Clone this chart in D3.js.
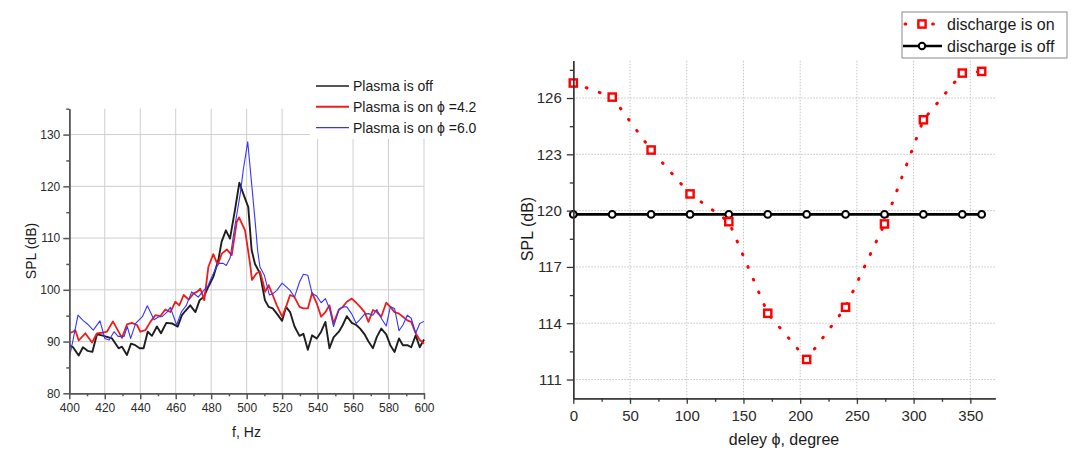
<!DOCTYPE html>
<html>
<head>
<meta charset="utf-8">
<script src="https://cdn.jsdelivr.net/npm/d3@7"></script>
<style>
  html, body { margin: 0; padding: 0; background: #fff; }
  svg { display: block; font-family: Arial, "Liberation Sans", sans-serif; }
</style>
</head>
<body>
<svg id="chart" width="1072" height="455"></svg>
<script>
// ---------- Left panel: SPL spectra ----------
const offFreq = [400, 402.1, 405.3, 407.7, 410.3, 413, 415.6, 418.4, 421.2, 424.1, 427.8, 429.7, 432.5, 434.8, 437.2, 439.7, 441.9, 444.2, 446.6, 449.4, 451.7, 454.7, 457.9, 461.1, 463.5, 465.4, 468.2, 471.1, 473.5, 475.8, 478.4, 481.2, 484, 485.9, 488.3, 490.6, 493.4, 495.9, 498.7, 500.9, 502.8, 504.7, 507.5, 510.3, 512.4, 514.7, 517, 520, 522.2, 524.5, 527, 529.8, 532, 534.5, 536.9, 539.5, 542, 544.4, 546.7, 549, 552, 554.2, 556.5, 559.3, 561.8, 564, 566.5, 568.7, 571.2, 573.4, 575.9, 578.7, 581, 583.4, 585.9, 588.1, 590.6, 592.8, 595.3, 597.6, 600];
const offSpl = [89.3, 88.9, 87.3, 88.9, 88.2, 88.0, 91.4, 91.2, 90.9, 90.6, 88.7, 89.0, 87.4, 89.6, 89.3, 88.7, 88.7, 91.9, 91.1, 92.9, 91.6, 93.6, 93.5, 92.9, 95.1, 95.9, 97.0, 95.7, 98.0, 98.6, 100.6, 102.5, 105.7, 109.3, 111.5, 109.9, 115.4, 120.7, 118.0, 116.0, 107.7, 105.0, 103.2, 98.0, 96.7, 96.4, 95.4, 94.0, 96.7, 95.7, 92.9, 91.1, 91.5, 88.4, 91.2, 90.6, 91.9, 93.8, 88.7, 90.8, 91.9, 93.2, 94.9, 93.6, 93.2, 92.5, 91.4, 90.0, 88.7, 90.9, 92.5, 91.4, 89.3, 88.0, 90.6, 89.3, 89.3, 88.9, 91.2, 88.9, 90.4];

const on42Freq = [400, 402.1, 403.4, 405.3, 409, 412.8, 415.6, 418.4, 421.2, 424.6, 427.3, 429.7, 432.5, 435.3, 438.2, 440, 442.9, 445.7, 448.5, 451.3, 454.1, 457, 459.8, 462, 464.5, 467.3, 470.1, 472, 473.9, 476.1, 478.4, 481.2, 483.7, 486, 488.8, 491.6, 494.4, 495.7, 499.1, 501.9, 503, 505.6, 507.5, 509.4, 510.4, 512.4, 514.7, 517, 520, 522.2, 524.5, 527, 529.8, 532, 534.5, 536.9, 539.5, 542, 544.4, 546.7, 549, 552, 554.2, 556.5, 559.3, 561.8, 564, 566.5, 568.7, 571.2, 573.4, 575.9, 578.7, 581, 583.4, 585.9, 588.1, 590.6, 592.8, 595.3, 597.6, 600];
const on42Spl = [91.6, 91.9, 92.2, 90.2, 91.6, 89.8, 91.6, 91.7, 91.9, 93.9, 92.2, 90.7, 93.3, 93.6, 93.2, 91.9, 92.2, 93.8, 95.1, 94.9, 96.2, 95.7, 97.7, 97.0, 99.0, 98.1, 99.3, 99.6, 100.2, 98.0, 104.4, 106.9, 104.8, 107.0, 107.8, 106.7, 113.1, 114.0, 111.5, 105.1, 101.9, 103.2, 103.5, 101.2, 99.6, 100.9, 99.0, 97.0, 94.8, 96.7, 99.0, 98.6, 96.7, 96.4, 96.4, 99.4, 97.4, 94.8, 95.7, 97.0, 93.5, 96.2, 96.7, 97.7, 98.3, 97.5, 96.7, 95.7, 93.8, 96.1, 95.7, 94.8, 97.5, 96.7, 95.7, 95.4, 94.8, 94.1, 93.8, 91.6, 90.3, 89.6];

const on60Freq = [400, 402.1, 404.9, 407.7, 410.2, 413.5, 417.3, 420, 422.5, 425.2, 427.5, 430.9, 432.7, 434.6, 437.4, 441.2, 444, 447.8, 450.5, 452.3, 455.1, 457, 460.5, 463.3, 466, 469, 472.7, 475.5, 478, 480.3, 484, 486.8, 488.5, 490.7, 493.2, 496.4, 498.2, 500.6, 503, 504.9, 506.2, 507.5, 510, 512.8, 514.7, 517, 520, 522.2, 524.5, 527, 529.8, 532, 534.5, 536.9, 539.5, 542, 544.4, 546.7, 549, 552, 554.2, 556.5, 559.3, 561.8, 564, 566.5, 568.7, 571.2, 573.4, 575.9, 578.7, 581, 583.4, 585.9, 588.1, 590.6, 592.8, 595.3, 597.6, 600];
const on60Spl = [86.8, 90.3, 95.1, 94.1, 93.4, 92.2, 94.0, 90.6, 90.3, 91.9, 91.0, 91.0, 92.9, 90.6, 93.5, 94.8, 96.9, 94.2, 94.8, 94.8, 95.7, 96.6, 93.2, 95.8, 97.0, 99.6, 98.6, 99.8, 100.6, 102.5, 105.1, 105.1, 104.7, 106.2, 112.0, 118.6, 123.4, 128.6, 119.8, 112.8, 107.6, 104.4, 102.8, 99.0, 99.2, 99.9, 101.3, 100.6, 99.9, 98.6, 101.5, 103.0, 102.8, 99.3, 98.8, 97.5, 98.3, 96.4, 92.9, 96.1, 96.7, 96.7, 95.3, 93.5, 94.3, 95.3, 95.4, 95.1, 96.2, 94.5, 93.0, 96.7, 96.4, 92.1, 93.2, 95.1, 94.5, 91.6, 93.5, 93.9];

const leftXTicks = [400, 420, 440, 460, 480, 500, 520, 540, 560, 580, 600];
const leftYTicks = [80, 90, 100, 110, 120, 130];
const leftLegend = ["Plasma is off", "Plasma is on \u03D5 =4.2", "Plasma is on \u03D5 =6.0"];

// ---------- Right panel: SPL vs. delay ----------
const phase = [0, 34.3, 68.6, 102.9, 137.1, 171.4, 205.7, 240, 274.3, 308.6, 342.9, 360];
const splOn = [126.8, 126.05, 123.23, 120.89, 119.41, 114.53, 112.07, 114.85, 119.29, 124.84, 127.33, 127.42];
const splOff = [119.8, 119.8, 119.8, 119.8, 119.8, 119.8, 119.8, 119.8, 119.8, 119.8, 119.8, 119.8];
const rightXTicks = [0, 50, 100, 150, 200, 250, 300, 350];
const rightYTicks = [111, 114, 117, 120, 123, 126];
const rightLegend = ["discharge is on", "discharge is off"];

const svg = d3.select("#chart");

function styleAxis(g, color, width, fontSize) {
  g.select(".domain").attr("stroke", color).attr("stroke-width", width);
  g.selectAll(".tick line").attr("stroke", color).attr("stroke-width", width);
  g.selectAll(".tick text").attr("fill", "#2a2a2a").style("font-size", fontSize + "px")
    .style("font-family", "Arial, 'Liberation Sans', sans-serif");
}

// ===== Left panel =====
(function () {
  const x = d3.scaleLinear().domain([400, 600]).range([69.3, 424]);
  const y = d3.scaleLinear().domain([80, 135]).range([393.3, 108.7]);
  const g = svg.append("g");

  // grid
  g.append("g").selectAll("line.v").data(leftXTicks.slice(1)).join("line")
    .attr("x1", d => x(d)).attr("x2", d => x(d))
    .attr("y1", y(80)).attr("y2", y(135))
    .attr("stroke", "#cfcfcf").attr("stroke-width", 1);
  g.append("g").selectAll("line.h").data(leftYTicks.slice(1)).join("line")
    .attr("x1", x(400)).attr("x2", x(600))
    .attr("y1", d => y(d)).attr("y2", d => y(d))
    .attr("stroke", "#cfcfcf").attr("stroke-width", 1);

  // series
  const series = [
    { f: on42Freq, v: on42Spl, color: "#f01c1c", w: 1.8 },
    { f: offFreq, v: offSpl, color: "#1e1e1e", w: 1.9 },
    { f: on60Freq, v: on60Spl, color: "#3535ff", w: 1.1 }
  ];
  const order = [1, 0, 2];
  const line = d3.line().x(d => x(d[0])).y(d => y(d[1]));
  order.forEach(i => {
    const s = series[i];
    g.append("path")
      .datum(s.f.map((f, k) => [f, s.v[k]]))
      .attr("d", line)
      .attr("fill", "none")
      .attr("stroke", s.color)
      .attr("stroke-width", s.w)
      .attr("stroke-linejoin", "round");
  });

  // legend (white box hides the grid behind it)
  g.append("rect").attr("x", 310).attr("y", 72).attr("width", 126).attr("height", 67).attr("fill", "#fff");
  const legColors = ["#1e1e1e", "#f01c1c", "#3535ff"];
  const legWidths = [1.5, 2, 1.2];
  leftLegend.forEach((t, i) => {
    const ly = 86 + i * 20.8;
    g.append("line").attr("x1", 316).attr("x2", 349).attr("y1", ly).attr("y2", ly)
      .attr("stroke", legColors[i]).attr("stroke-width", legWidths[i]);
    g.append("text").attr("x", 353).attr("y", ly + 5).text(t)
      .attr("fill", "#1a1a1a").style("font-size", "14px");
  });

  // axes
  const yMinor = g.append("g").attr("transform", `translate(${x(400)},0)`)
    .call(d3.axisLeft(y).tickValues(d3.range(85, 136, 10)).tickSize(3).tickSizeOuter(0).tickFormat(""));
  styleAxis(yMinor, "#555", 1.5, 12);
  const yAx = g.append("g").attr("transform", `translate(${x(400)},0)`)
    .call(d3.axisLeft(y).tickValues(leftYTicks).tickSize(6).tickPadding(3).tickSizeOuter(0));
  styleAxis(yAx, "#555", 1.5, 12);
  const xMinor = g.append("g").attr("transform", `translate(0,${y(80)})`)
    .call(d3.axisBottom(x).tickValues(d3.range(410, 600, 20)).tickSize(3).tickSizeOuter(0).tickFormat(""));
  styleAxis(xMinor, "#555", 1.5, 12);
  const xAx = g.append("g").attr("transform", `translate(0,${y(80)})`)
    .call(d3.axisBottom(x).tickValues(leftXTicks).tickSize(6).tickPadding(4).tickSizeOuter(0));
  styleAxis(xAx, "#555", 1.5, 12);

  g.append("text").attr("transform", "translate(36,251) rotate(-90)")
    .attr("text-anchor", "middle").attr("fill", "#1a1a1a").style("font-size", "14px").text("SPL (dB)");
  g.append("text").attr("x", 246.5).attr("y", 437).attr("text-anchor", "middle")
    .attr("fill", "#1a1a1a").style("font-size", "14px").text("f, Hz");
})();

// ===== Right panel =====
(function () {
  const x = d3.scaleLinear().domain([0, 372]).range([573.3, 995.3]);
  const y = d3.scaleLinear().domain([110, 128]).range([398.3, 60.5]);
  const g = svg.append("g");

  // dotted grid
  g.append("g").selectAll("line").data(rightXTicks.slice(1)).join("line")
    .attr("x1", d => x(d)).attr("x2", d => x(d))
    .attr("y1", y(110)).attr("y2", y(128))
    .attr("stroke", "#c4c4c4").attr("stroke-width", 1).attr("stroke-dasharray", "1.5 1.5");
  g.append("g").selectAll("line").data(rightYTicks).join("line")
    .attr("x1", x(0)).attr("x2", x(372))
    .attr("y1", d => y(d)).attr("y2", d => y(d))
    .attr("stroke", "#c4c4c4").attr("stroke-width", 1).attr("stroke-dasharray", "1.5 1.5");

  const onPts = phase.map((p, i) => [p, splOn[i]]);
  const offPts = phase.map((p, i) => [p, splOff[i]]);
  const line = d3.line().x(d => x(d[0])).y(d => y(d[1]));

  g.append("path").datum(onPts).attr("d", line).attr("fill", "none")
    .attr("stroke", "#f00").attr("stroke-width", 3)
    .attr("stroke-linecap", "round").attr("stroke-dasharray", "0.8 13");
  g.append("path").datum(offPts).attr("d", line).attr("fill", "none")
    .attr("stroke", "#000").attr("stroke-width", 2.6);

  g.append("g").selectAll("circle").data(offPts).join("circle")
    .attr("cx", d => x(d[0])).attr("cy", d => y(d[1])).attr("r", 3.4)
    .attr("fill", "#fff").attr("stroke", "#000").attr("stroke-width", 2);
  g.append("g").selectAll("rect").data(onPts).join("rect")
    .attr("x", d => x(d[0]) - 3.6).attr("y", d => y(d[1]) - 3.6)
    .attr("width", 7.2).attr("height", 7.2)
    .attr("fill", "#fff").attr("stroke", "#f00").attr("stroke-width", 2.4);

  // axes
  const yMinor = g.append("g").attr("transform", `translate(${x(0)},0)`)
    .call(d3.axisLeft(y).tickValues(d3.range(112.5, 128, 3)).tickSize(3.5).tickSizeOuter(0).tickFormat(""));
  styleAxis(yMinor, "#333", 1.3, 15);
  const yAx = g.append("g").attr("transform", `translate(${x(0)},0)`)
    .call(d3.axisLeft(y).tickValues(rightYTicks).tickSize(6.5).tickPadding(5).tickSizeOuter(0));
  styleAxis(yAx, "#333", 1.3, 15);
  const xMinor = g.append("g").attr("transform", `translate(0,${y(110)})`)
    .call(d3.axisBottom(x).tickValues(d3.range(25, 350, 50)).tickSize(3.5).tickSizeOuter(0).tickFormat(""));
  styleAxis(xMinor, "#333", 1.3, 15);
  const xAx = g.append("g").attr("transform", `translate(0,${y(110)})`)
    .call(d3.axisBottom(x).tickValues(rightXTicks).tickSize(5.5).tickPadding(7).tickSizeOuter(0));
  styleAxis(xAx, "#333", 1.3, 15);

  g.append("text").attr("transform", "translate(533,229) rotate(-90)")
    .attr("text-anchor", "middle").attr("fill", "#1a1a1a").style("font-size", "16px").text("SPL (dB)");
  g.append("text").attr("x", 784).attr("y", 445).attr("text-anchor", "middle")
    .attr("fill", "#1a1a1a").style("font-size", "16px").text("deley \u03D5, degree");

  // legend
  g.append("rect").attr("x", 902).attr("y", 12).attr("width", 165).attr("height", 46)
    .attr("fill", "#fff").attr("stroke", "#8a8a8a").attr("stroke-width", 1);
  const r1 = 24, r2 = 46;
  g.append("line").attr("x1", 905).attr("x2", 940).attr("y1", r1).attr("y2", r1)
    .attr("stroke", "#f00").attr("stroke-width", 3).attr("stroke-linecap", "round")
    .attr("stroke-dasharray", "0.8 13");
  g.append("rect").attr("x", 922 - 3.6).attr("y", r1 - 3.6).attr("width", 7.2).attr("height", 7.2)
    .attr("fill", "#fff").attr("stroke", "#f00").attr("stroke-width", 2.4);
  g.append("line").attr("x1", 903).attr("x2", 942).attr("y1", r2).attr("y2", r2)
    .attr("stroke", "#000").attr("stroke-width", 2.6);
  g.append("circle").attr("cx", 922).attr("cy", r2).attr("r", 3.2)
    .attr("fill", "#fff").attr("stroke", "#000").attr("stroke-width", 2);
  rightLegend.forEach((t, i) => {
    g.append("text").attr("x", 947).attr("y", (i ? r2 : r1) + 5.6).text(t)
      .attr("fill", "#1a1a1a").style("font-size", "16px");
  });
})();
</script>
</body>
</html>
